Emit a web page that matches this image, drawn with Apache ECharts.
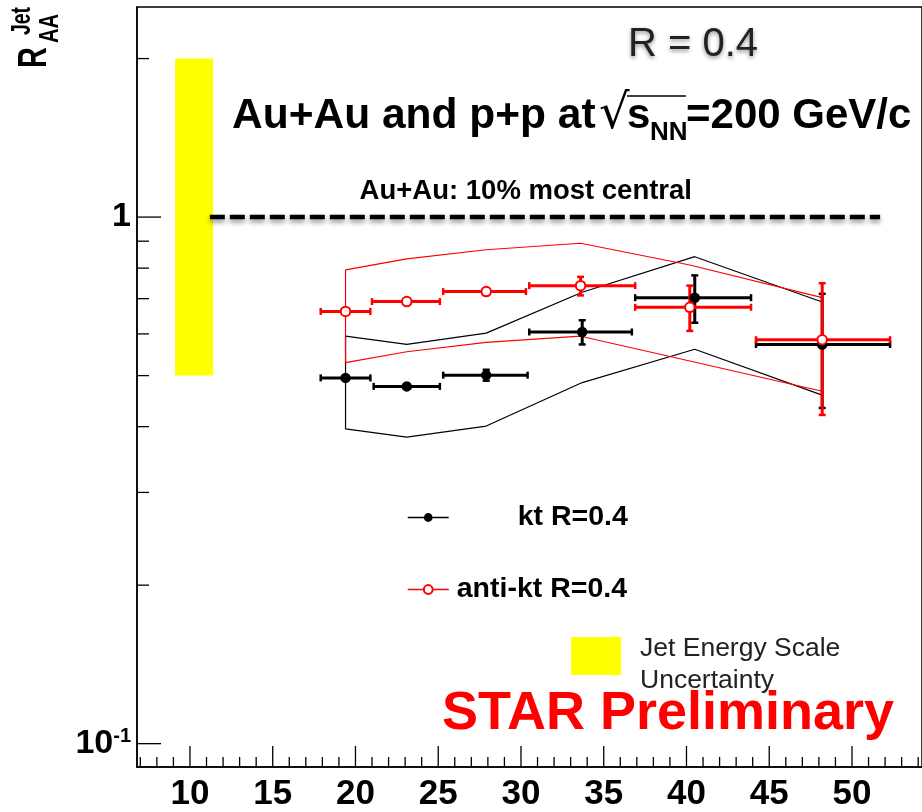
<!DOCTYPE html>
<html><head><meta charset="utf-8">
<script src="https://cdn.jsdelivr.net/npm/echarts@6/dist/echarts.min.js"></script>
<style>html,body{margin:0;padding:0;background:#fff}#c{width:922px;height:812px}</style>
</head><body><div id="c"></div>
<script>
// ---------- data ----------
const ktX     = [19.4, 23.1, 27.9, 33.7, 40.5, 48.2];
const ktXLow  = [17.9, 21.1, 25.3, 30.5, 36.9, 44.2];
const ktXHigh = [20.9, 25.1, 30.4, 36.7, 43.9, 52.3];
const ktY     = [0.495, 0.477, 0.501, 0.605, 0.703, 0.573];
const ktYLow  = [0.487, 0.470, 0.489, 0.573, 0.630, 0.434];
const ktYHigh = [0.503, 0.484, 0.513, 0.637, 0.775, 0.715];
const ktBandUpper = [0.594, 0.573, 0.602, 0.72, 0.841, 0.690];
const ktBandLower = [0.396, 0.382, 0.401, 0.485, 0.561, 0.459];

const aktX     = [19.4, 23.1, 27.9, 33.6, 40.2, 48.2];
const aktXLow  = [17.9, 21.0, 25.3, 30.5, 36.9, 44.2];
const aktXHigh = [20.9, 25.1, 30.3, 36.9, 43.9, 52.3];
const aktY     = [0.662, 0.691, 0.722, 0.741, 0.674, 0.585];
const aktYLow  = [0.654, 0.683, 0.714, 0.710, 0.608, 0.421];
const aktYHigh = [0.670, 0.699, 0.730, 0.770, 0.741, 0.749];
const aktBandUpper = [0.794, 0.833, 0.867, 0.892, 0.811, 0.703];
const aktBandLower = [0.529, 0.555, 0.578, 0.594, 0.533, 0.467];

const jesX = [9.1, 11.4];
const jesY = [0.5, 2.0];
const refLineX = [11.2, 51.7];
const refLineY = 1;

const xTickLabels = [10, 15, 20, 25, 30, 35, 40, 45, 50];
const xMinorTicks = [7, 8, 9, 11, 12, 13, 14, 16, 17, 18, 19, 21, 22, 23, 24, 26, 27, 28, 29,
  31, 32, 33, 34, 36, 37, 38, 39, 41, 42, 43, 44, 46, 47, 48, 49, 51, 52, 53, 54];
const yMajorTicks = [0.1, 1];
const yMinorTicks = [0.2, 0.3, 0.4, 0.5, 0.6, 0.7, 0.8, 0.9, 2];

const X_MIN = 6.8, X_MAX = 54.23, Y_MIN = 0.0903, Y_MAX = 2.506;
const FF = '"Liberation Sans", Arial, Helvetica, sans-serif';

// ---------- helpers ----------
function bandPolygon(xs, up, lo) {
  const pts = xs.map((x, i) => [x, up[i]]);
  for (let i = xs.length - 1; i >= 0; i--) pts.push([xs[i], lo[i]]);
  pts.push([xs[0], up[0]]);
  return pts;
}
function errData(xs, ys, xl, xh, yl, yh) {
  return xs.map((x, i) => [x, ys[i], xl[i], xh[i], yl[i], yh[i]]);
}
function errRender(color) {
  return function (params, api) {
    const x = api.value(0), y = api.value(1);
    const l = api.coord([api.value(2), y]), r = api.coord([api.value(3), y]);
    const b = api.coord([x, api.value(4)]), t = api.coord([x, api.value(5)]);
    const st = { stroke: color, lineWidth: 3 };
    const cs = { stroke: color, lineWidth: 2.5 };
    const cap = 3.5;
    const ch = [
      { type: 'line', shape: { x1: l[0], y1: l[1], x2: r[0], y2: r[1] }, style: st },
      { type: 'line', shape: { x1: l[0], y1: l[1] - cap, x2: l[0], y2: l[1] + cap }, style: cs },
      { type: 'line', shape: { x1: r[0], y1: r[1] - cap, x2: r[0], y2: r[1] + cap }, style: cs },
      { type: 'line', shape: { x1: b[0], y1: b[1], x2: t[0], y2: t[1] }, style: st }
    ];
    if (Math.abs(b[1] - t[1]) > 9) {
      ch.push({ type: 'line', shape: { x1: b[0] - cap, y1: b[1], x2: b[0] + cap, y2: b[1] }, style: cs });
      ch.push({ type: 'line', shape: { x1: t[0] - cap, y1: t[1], x2: t[0] + cap, y2: t[1] }, style: cs });
    }
    return { type: 'group', children: ch };
  };
}

const chart = echarts.init(document.getElementById('c'), null, { renderer: 'canvas' });

const option = {
  animation: false,
  backgroundColor: '#fff',
  grid: { left: 137, right: 0, top: 7, bottom: 42, show: true, borderColor: '#000', borderWidth: 1.5, backgroundColor: 'transparent' },
  xAxis: {
    type: 'value', min: X_MIN, max: X_MAX, splitNumber: 10,
    axisLine: { show: true, onZero: false, lineStyle: { color: '#000', width: 1.5 } },
    axisTick: { show: false }, splitLine: { show: false },
    axisLabel: {
      customValues: xTickLabels,
      formatter: v => (xTickLabels.indexOf(Math.round(v * 1000) / 1000) >= 0 ? String(Math.round(v)) : ''),
      hideOverlap: false,
      fontSize: 35, fontWeight: 'bold', color: '#000', fontFamily: FF, margin: 10
    }
  },
  yAxis: {
    type: 'log', logBase: 10, min: Y_MIN, max: Y_MAX,
    axisLine: { show: true, onZero: false, lineStyle: { color: '#000', width: 1.5 } },
    axisTick: { show: false }, splitLine: { show: false },
    axisLabel: {
      showMinLabel: false, showMaxLabel: false, margin: 6,
      formatter: v => (Math.abs(v - 1) < 1e-6 ? '{m|1}' : (Math.abs(v - 0.1) < 1e-7 ? '{m|10}{e|-1}' : '')),
      rich: {
        m: { fontSize: 34, fontWeight: 'bold', color: '#000', fontFamily: FF },
        e: { fontSize: 20, fontWeight: 'bold', color: '#000', fontFamily: FF, verticalAlign: 'top' }
      }
    }
  },
  legend: [
    {
      data: [{ name: 'kt R=0.4', lineStyle: { opacity: 1, width: 1.5, color: '#000' } }],
      left: 407, top: 503, padding: 0, itemWidth: 41, itemHeight: 11, selectedMode: false,
      textStyle: { fontSize: 28.5, fontWeight: 'bold', color: '#000', fontFamily: FF, padding: [0, 0, 0, 64] }
    },
    {
      data: [{ name: 'anti-kt R=0.4', lineStyle: { opacity: 1, width: 1.5, color: '#ff0000' } }],
      left: 407, top: 575, padding: 0, itemWidth: 41, itemHeight: 11, selectedMode: false,
      textStyle: { fontSize: 28.5, fontWeight: 'bold', color: '#000', fontFamily: FF, padding: [0, 0, 0, 3] }
    },
    {
      data: [{ name: 'Jet Energy Scale\nUncertainty', icon: 'rect' }],
      left: 571, top: 619, padding: 0, itemWidth: 50, itemHeight: 38, selectedMode: false,
      formatter: name => '{p|}\n' + name.split('\n').map(s => '{t|' + s + '}').join('\n'),
      textStyle: {
        fontSize: 26.5, color: '#222', fontFamily: FF, padding: [0, 0, 0, 14],
        rich: {
          p: { lineHeight: 18, fontSize: 10 },
          t: { fontSize: 26.5, color: '#222', fontFamily: FF, lineHeight: 32 }
        }
      }
    }
  ],
  series: [
    {
      name: 'Jet Energy Scale\nUncertainty', type: 'custom', z: 1, silent: true,
      itemStyle: { color: '#ffff00' },
      data: [[jesX[0], jesY[0], jesX[1], jesY[1]]],
      renderItem: (params, api) => {
        const p0 = api.coord([api.value(0), api.value(1)]);
        const p1 = api.coord([api.value(2), api.value(3)]);
        return { type: 'rect', shape: { x: p0[0], y: p1[1], width: p1[0] - p0[0], height: p0[1] - p1[1] }, style: { fill: '#ffff00' } };
      }
    },
    {
      name: 'ref', type: 'line', z: 2, silent: true, symbol: 'none',
      data: [[refLineX[0], refLineY], [refLineX[1], refLineY]],
      lineStyle: { color: '#000', width: 4.5, type: [15, 5], shadowBlur: 5, shadowColor: 'rgba(0,0,0,0.45)', shadowOffsetY: 3 }
    },
    {
      name: 'ktBand', type: 'line', z: 3, silent: true, symbol: 'none',
      data: bandPolygon(ktX, ktBandUpper, ktBandLower),
      lineStyle: { color: '#000', width: 1.2 }
    },
    {
      name: 'aktBand', type: 'line', z: 3, silent: true, symbol: 'none',
      data: bandPolygon(aktX, aktBandUpper, aktBandLower),
      lineStyle: { color: '#ff0000', width: 1.2 }
    },
    {
      name: 'ktErr', type: 'custom', z: 4, silent: true,
      data: errData(ktX, ktY, ktXLow, ktXHigh, ktYLow, ktYHigh),
      renderItem: errRender('#000')
    },
    {
      name: 'aktErr', type: 'custom', z: 5, silent: true,
      data: errData(aktX, aktY, aktXLow, aktXHigh, aktYLow, aktYHigh),
      renderItem: errRender('#ff0000')
    },
    {
      name: 'kt R=0.4', type: 'line', z: 6, silent: true,
      data: ktX.map((x, i) => [x, ktY[i]]),
      symbol: 'circle', symbolSize: 10.5,
      itemStyle: { color: '#000' },
      lineStyle: { opacity: 0, width: 0 }
    },
    {
      name: 'anti-kt R=0.4', type: 'line', z: 7, silent: true,
      data: aktX.map((x, i) => [x, aktY[i]]),
      symbol: 'emptyCircle', symbolSize: 9.5,
      itemStyle: { color: '#ff0000', borderColor: '#ff0000', borderWidth: 2 },
      lineStyle: { opacity: 0, width: 0 }
    },
    {
      name: 'xticks', type: 'custom', z: 8, silent: true, clip: false,
      data: xTickLabels.map(v => [v, Y_MIN, 1]).concat(xMinorTicks.map(v => [v, Y_MIN, 0])),
      renderItem: (params, api) => {
        const p = api.coord([api.value(0), api.value(1)]);
        const len = api.value(2) ? 21 : 10;
        return { type: 'line', shape: { x1: p[0], y1: p[1], x2: p[0], y2: p[1] - len }, style: { stroke: '#000', lineWidth: 1.3 } };
      }
    },
    {
      name: 'yticks', type: 'custom', z: 8, silent: true, clip: false,
      data: yMajorTicks.map(v => [X_MIN, v, 1]).concat(yMinorTicks.map(v => [X_MIN, v, 0])),
      renderItem: (params, api) => {
        const p = api.coord([api.value(0), api.value(1)]);
        const len = api.value(2) ? 24 : 12;
        return { type: 'line', shape: { x1: p[0], y1: p[1], x2: p[0] + len, y2: p[1] }, style: { stroke: '#000', lineWidth: 1.3 } };
      }
    }
  ],
  graphic: [
    { type: 'text', x: 628, y: 45, z: 10,
      style: { text: 'R = 0.4', font: '40px ' + FF, fill: '#222', align: 'left', verticalAlign: 'middle',
        textShadowColor: 'rgba(0,0,0,0.45)', textShadowBlur: 4, textShadowOffsetY: 2 } },
    { type: 'text', x: 232, y: 116, z: 10,
      style: { text: 'Au+Au and p+p at', font: 'bold 42.5px ' + FF, fill: '#000', align: 'left', verticalAlign: 'middle' } },
    { type: 'text', x: 599, y: 116, z: 10,
      style: { text: '\u221A', font: '48px "DejaVu Sans", sans-serif', fill: '#000', align: 'left', verticalAlign: 'middle' } },
    { type: 'line', z: 10, shape: { x1: 627, y1: 96, x2: 686, y2: 96 }, style: { stroke: '#000', lineWidth: 1.5 } },
    { type: 'text', x: 627, y: 116, z: 10,
      style: { text: 's', font: 'bold 42px ' + FF, fill: '#000', align: 'left', verticalAlign: 'middle' } },
    { type: 'text', x: 650, y: 133, z: 10,
      style: { text: 'NN', font: 'bold 26px ' + FF, fill: '#000', align: 'left', verticalAlign: 'middle' } },
    { type: 'text', x: 686, y: 116, z: 10,
      style: { text: '=200 GeV/c', font: 'bold 42px ' + FF, fill: '#000', align: 'left', verticalAlign: 'middle' } },
    { type: 'text', x: 692, y: 191, z: 10,
      style: { text: 'Au+Au: 10% most central', font: 'bold 27.5px ' + FF, fill: '#000', align: 'right', verticalAlign: 'middle' } },
    { type: 'text', x: 442, y: 714, z: 10,
      style: { text: 'STAR Preliminary', font: 'bold 54px ' + FF, fill: '#ff0000', align: 'left', verticalAlign: 'middle' } },
    { type: 'group', x: 49, y: 68, rotation: Math.PI / 2, scaleX: 0.72, z: 10, children: [
      { type: 'text', x: 0, y: -14.5, style: { text: 'R', font: 'bold 40px ' + FF, fill: '#000', align: 'left', verticalAlign: 'middle' } },
      { type: 'text', x: 45.8, y: -26, style: { text: 'Jet', font: 'bold 27px ' + FF, fill: '#000', align: 'left', verticalAlign: 'middle' } },
      { type: 'text', x: 34.7, y: 1.5, style: { text: 'AA', font: 'bold 28px ' + FF, fill: '#000', align: 'left', verticalAlign: 'middle' } }
    ] }
  ]
};
chart.setOption(option);
</script>
</body></html>
